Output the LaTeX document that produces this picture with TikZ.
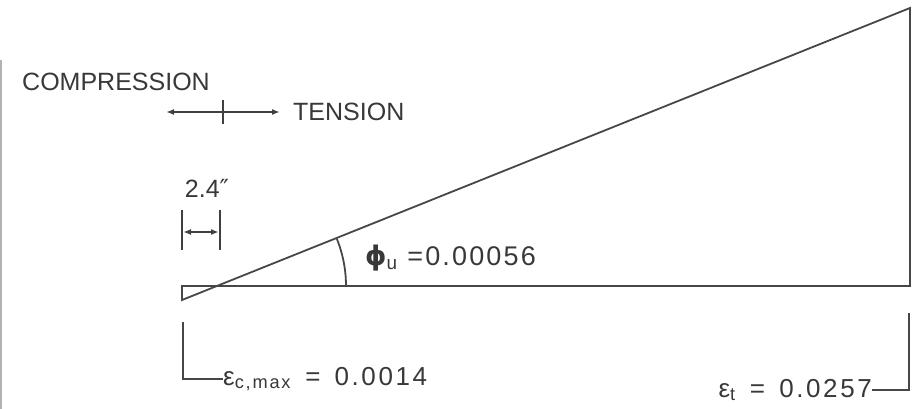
\documentclass[tikz,border=0pt]{standalone}
\usepackage{fontspec}
\setmainfont{Liberation Sans}
\newfontfamily\djv{DejaVu Sans}
\usetikzlibrary{arrows.meta}
\begin{document}
\begin{tikzpicture}[x=1pt,y=-1pt,
  ln/.style={draw=black!72,line width=1.8pt},
  thin/.style={draw=black!75,line width=1.6pt},
  lbl/.style={inner sep=0pt,font=\fontsize{25}{29}\selectfont,text=black!78},
  plbl/.style={inner sep=0pt,font=\fontsize{27}{31}\selectfont\addfontfeature{LetterSpace=8},text=black!78},
  elbl/.style={inner sep=0pt,font=\fontsize{26}{30}\selectfont\addfontfeature{LetterSpace=10},text=black!78},
  dimarrow/.style={thin,{Latex[length=8pt,width=6pt]}-{Latex[length=8pt,width=6pt]}}]
\useasboundingbox (0,0) rectangle (920,409);
% scan border at left
\draw[black!30,line width=1.2pt] (1,60) -- (1,409);

% labels for direction
\node[lbl] (comp) at (116,82) {COMPRESSION};
\node[lbl,anchor=west] (tens) at (293,112) {TENSION};
\coordinate (cl) at (166,112);
\coordinate (cr) at (280,112);
\coordinate (ct) at (223,100);
\coordinate (cb) at (223,124);
\draw[dimarrow] (cl) -- (cr);
\draw[thin] (ct) -- (cb);

% main strain diagram
\coordinate (A) at (182,286);
\coordinate (B) at (910,286);
\coordinate (C) at (910,8);
\coordinate (D) at (182,300);
\coordinate (N) at (220,286);
\draw[ln,line join=miter] (D) -- (C) -- (B) -- (A) -- cycle;

% angle arc
\draw[ln] (N) ++(126,0) arc[start angle=0,end angle=-21.9,radius=126];
\node[plbl,anchor=west] (phi) at (365,258) {{\djv\bfseries ϕ}\textsubscript{u} =0.00056};

% 2.4" dimension
\coordinate (d1t) at (182,210);
\coordinate (d1b) at (182,250);
\coordinate (d2t) at (220,210);
\coordinate (d2b) at (220,250);
\draw[thin] (d1t) -- (d1b);
\draw[thin] (d2t) -- (d2b);
\coordinate (da) at (183,232);
\coordinate (db) at (219,232);
\draw[dimarrow] (da) -- (db);
\node[lbl] (dim) at (207,188) {2.4{\djv ″}};

% strain labels
\node[elbl,anchor=base west] (epsc) at (223,385) {ε\textsubscript{c,max} \,=\, 0.0014};
\coordinate (tc) at (183,322);
\draw[ln] (tc) |- (epsc.west);

\node[elbl,anchor=base east] (epst) at (872,397) {ε\textsubscript{t} \,=\, 0.0257};
\coordinate (tt) at (909,313);
\draw[ln] (tt) |- (epst.east);
\end{tikzpicture}
\end{document}
